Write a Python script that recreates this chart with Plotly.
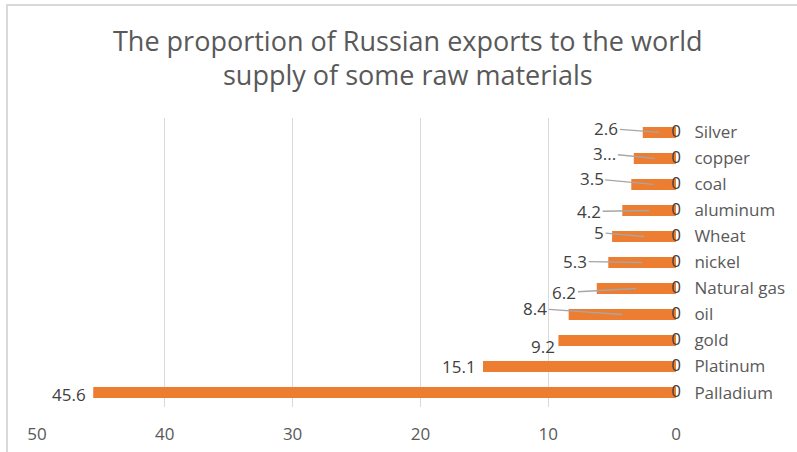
import plotly.graph_objects as go

# Share of Russian exports in world supply, per raw material (percent)
materials = ["Silver", "copper", "coal", "aluminum", "Wheat", "nickel",
             "Natural gas", "oil", "gold", "Platinum", "Palladium"]
share = [2.6, 3.3, 3.5, 4.2, 5, 5.3, 6.2, 8.4, 9.2, 15.1, 45.6]
# second (empty) series whose labels sit at the zero line
zero_series = [0, 0, 0, 0, 0, 0, 0, 0, 0, 0, 0]
# label texts as shown (copper's is cut short)
share_text = ["2.6", "3...", "3.5", "4.2", "5", "5.3", "6.2", "8.4", "9.2", "15.1", "45.6"]
x_ticks = [50, 40, 30, 20, 10, 0]
title_lines = ["The proportion of Russian exports to the world",
               "supply of some raw materials"]

# label placement: (dx, dy) pixel offsets of the text from the leader-line anchor;
# None means the label sits next to the bar end without a leader line
label_offsets = [(-53, -4), (-50, -5), (-62, -6), (-60, 1), (-45, -4), (-67, -1),
                 (-72, 4), (-87, -6), None, None, None]
plain_shift = {8: (-15, -6), 9: (-24, 0), 10: (-24, -2)}

BAR = "#ED7D31"
TXT = "#595959"
LBL = "#404040"
FONT = "Open Sans"
FS = 17

# plot area in pixels
L, R, T, B = 37, 676, 118, 407
W, H = 797, 452
PW, PH = R - L, B - T


def px_to_paper(px, py):
    return (px - L) / PW, (B - py) / PH


fig = go.Figure()
fig.add_trace(go.Bar(
    y=materials, x=share, orientation="h",
    marker=dict(color=BAR, line=dict(width=0)),
    hoverinfo="x+y", showlegend=False,
))
fig.add_trace(go.Scatter(
    y=materials, x=zero_series, mode="text",
    text=[str(v) for v in zero_series], textposition="middle center",
    textfont=dict(family=FONT, size=FS, color=LBL),
    hoverinfo="skip", showlegend=False, cliponaxis=False,
))

annotations = []
for i, (cat, v, t) in enumerate(zip(materials, share, share_text)):
    off = label_offsets[i]
    if off is not None:
        annotations.append(dict(
            x=v / 2, y=cat, xref="x", yref="y", text=t,
            showarrow=True, arrowhead=0, arrowwidth=1.3, arrowcolor="#A6A6A6",
            ax=off[0], ay=off[1], standoff=0,
            font=dict(family=FONT, size=FS, color=LBL),
        ))
    else:
        dx, dy = plain_shift[i]
        annotations.append(dict(
            x=v, y=cat, xref="x", yref="y", text=t, showarrow=False,
            xanchor="center", xshift=dx, yshift=dy,
            font=dict(family=FONT, size=FS, color=LBL),
        ))

# two-line chart title
for line, py in zip(title_lines, (41, 74)):
    tx, ty = px_to_paper(408, py)
    annotations.append(dict(
        x=tx, y=ty, xref="paper", yref="paper", text=line, showarrow=False,
        xanchor="center", yanchor="middle",
        font=dict(family=FONT, size=27, color=TXT),
    ))

bx0, by1 = px_to_paper(7, 5)

fig.update_layout(
    width=W, height=H,
    margin=dict(l=L, r=W - R, t=T, b=H - B, autoexpand=False),
    paper_bgcolor="white", plot_bgcolor="white",
    bargap=0.58,
    xaxis=dict(
        range=[50, 0], tickvals=x_ticks, ticktext=[str(v) for v in x_ticks],
        showgrid=True, gridcolor="#D9D9D9", gridwidth=1.3,
        zeroline=False, showline=False, automargin=False,
        ticks="outside", ticklen=12, tickcolor="rgba(0,0,0,0)",
        tickfont=dict(family=FONT, size=FS, color=TXT),
    ),
    yaxis=dict(
        side="right", autorange="reversed", showgrid=False, zeroline=False,
        showline=False, automargin=False,
        ticks="outside", ticklen=14, tickcolor="rgba(0,0,0,0)",
        tickfont=dict(family=FONT, size=FS, color=TXT),
    ),
    annotations=annotations,
    shapes=[dict(
        type="rect", xref="paper", yref="paper",
        x0=bx0, x1=2, y0=-1, y1=by1,
        line=dict(color="#D9D9D9", width=2), fillcolor="rgba(0,0,0,0)", layer="below",
    )],
)

fig.write_html("out.html")
